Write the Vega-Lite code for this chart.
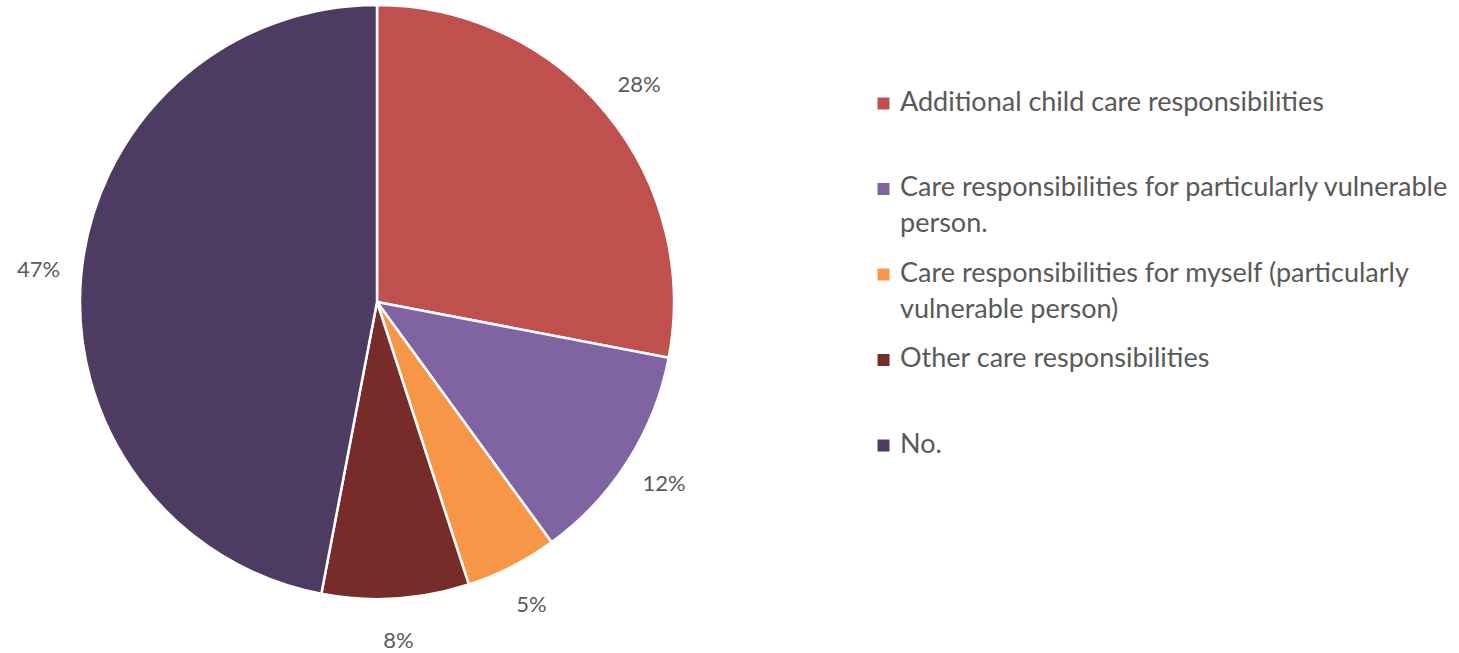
{
  "$schema": "https://vega.github.io/schema/vega-lite/v6.json",
  "width": 754,
  "height": 596,
  "padding": {"left": 0, "top": 0, "right": 0, "bottom": 0},
  "autosize": {"type": "pad"},
  "background": "white",
  "config": {
    "view": {"stroke": null},
    "font": "Lato",
    "style": {"guide-label": {"lineHeight": 36, "dy": -14}}
  },
  "data": {
    "values": [
      {"category": "Additional child care responsibilities", "share": 0.28, "rank": 1},
      {"category": "Care responsibilities for particularly vulnerable person.", "share": 0.12, "rank": 2},
      {"category": "Care responsibilities for myself (particularly vulnerable person)", "share": 0.05, "rank": 3},
      {"category": "Other care responsibilities", "share": 0.08, "rank": 4},
      {"category": "No.", "share": 0.47, "rank": 5}
    ]
  },
  "encoding": {
    "theta": {"field": "share", "type": "quantitative", "stack": true},
    "order": {"field": "rank", "type": "quantitative"},
    "color": {
      "field": "category",
      "type": "nominal",
      "scale": {
        "domain": [
          "Additional child care responsibilities",
          "Care responsibilities for particularly vulnerable person.",
          "Care responsibilities for myself (particularly vulnerable person)",
          "Other care responsibilities",
          "No."
        ],
        "range": ["#C0504D", "#8064A2", "#F79646", "#772C2A", "#4D3B62"]
      },
      "legend": {
        "orient": "none",
        "legendX": 870,
        "legendY": 86,
        "title": null,
        "labelFont": "Lato",
        "labelFontSize": 27,
        "labelColor": "#595959",
        "labelLimit": 800,
        "labelOffset": 3,
        "labelBaseline": "top",
        "symbolType": "square",
        "symbolSize": 144,
        "symbolStrokeWidth": 0,
        "rowPadding": 21.5,
        "labelExpr": "datum.label == 'Care responsibilities for particularly vulnerable person.' ? ['Care responsibilities for particularly vulnerable', 'person.'] : datum.label == 'Care responsibilities for myself (particularly vulnerable person)' ? ['Care responsibilities for myself (particularly', 'vulnerable person)'] : [datum.label, ' ']"
      }
    }
  },
  "layer": [
    {"mark": {"type": "arc", "outerRadius": 297, "stroke": "white", "strokeWidth": 2.5}},
    {
      "mark": {"type": "text", "radius": 340, "fontSize": 22, "font": "Lato"},
      "encoding": {
        "text": {"field": "share", "type": "quantitative", "format": ".0%"},
        "color": {"value": "#595959"}
      }
    }
  ]
}
